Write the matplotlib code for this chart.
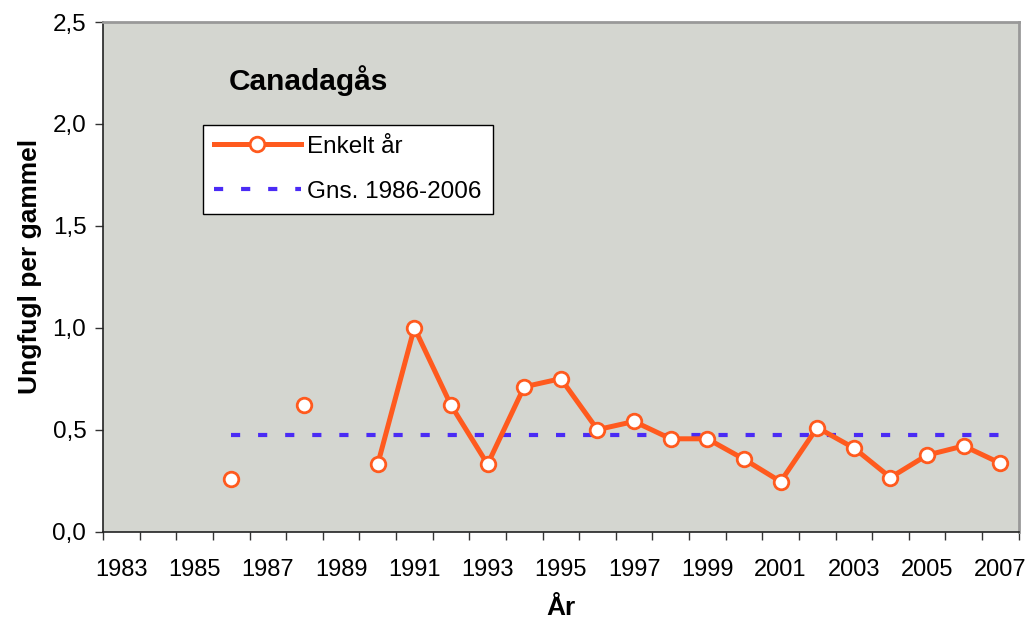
import numpy as np
import matplotlib
matplotlib.use('Agg')
import matplotlib.pyplot as plt

plt.rcParams['font.family'] = ['Liberation Sans', 'DejaVu Sans']

# Data (NaN = no value that year)
years = list(range(1983, 2008))
ratio = [np.nan, np.nan, np.nan, 0.26, np.nan, 0.62, np.nan, 0.33, 1.00, 0.62,
         0.33, 0.71, 0.75, 0.50, 0.54, 0.455, 0.455, 0.355, 0.245, 0.51,
         0.41, 0.265, 0.375, 0.42, 0.335]
mean_years = [1986, 2007]
mean_value = 0.475
year_labels = [str(y) for y in range(1983, 2008, 2)]
y_ticks = [0.0, 0.5, 1.0, 1.5, 2.0, 2.5]
y_tick_labels = ["0,0", "0,5", "1,0", "1,5", "2,0", "2,5"]

orange = '#FF5A1E'
blue = '#4A2BF5'

fig = plt.figure(figsize=(10.3, 6.2), dpi=100)
ax = fig.add_axes([0.1, 0.1427, 0.889, 0.8218])
ax.set_facecolor('#D4D6D0')

line_single, = ax.plot(years, ratio, color=orange, lw=3.6, marker='o', markersize=10.5,
                       markerfacecolor='white', markeredgecolor=orange, markeredgewidth=2,
                       label='Enkelt år', zorder=4)
line_mean, = ax.plot(mean_years, [mean_value] * len(mean_years), color=blue, lw=3,
                     linestyle=(0, (2.2, 4.3)), dash_capstyle='butt',
                     label='Gns. 1986-2006', zorder=3)

ax.set_xlim(1982.5, 2007.5)
ax.set_ylim(0, 2.5)
ax.set_xticks(np.arange(1982.5, 2008, 1))
ax.set_xticklabels([])
ax.set_xticks(range(1983, 2008, 2), minor=True)
ax.set_xticklabels(year_labels, minor=True, fontsize=17)
ax.tick_params(axis='x', which='minor', length=0, pad=20)
ax.tick_params(axis='x', which='major', direction='out', length=6, width=1, color='#333333')
ax.set_yticks(y_ticks)
ax.set_yticklabels(y_tick_labels, fontsize=17.5)
ax.tick_params(axis='y', direction='out', length=6, width=1, color='#333333', pad=6)

for side in ['left', 'bottom']:
    ax.spines[side].set_color('#222222')
    ax.spines[side].set_linewidth(1.2)
for side in ['top', 'right']:
    ax.spines[side].set_color('#999999')
    ax.spines[side].set_linewidth(2)

ax.set_ylabel('Ungfugl per gammel', fontsize=19, fontweight='bold')
ax.yaxis.set_label_coords(-0.067, 0.52)
ax.set_xlabel('År', fontsize=19, fontweight='bold')
ax.xaxis.set_label_coords(0.5, -0.126)

ax.text(0.137, 0.885, 'Canadagås', transform=ax.transAxes, fontsize=21.5,
        fontweight='bold', ha='left', va='center')

leg = ax.legend(handles=[line_single, line_mean], loc='upper left',
                bbox_to_anchor=(0.109, 0.798), fontsize=17.5, frameon=True,
                fancybox=False, edgecolor='black', framealpha=1,
                handlelength=3.6, borderpad=0.45, labelspacing=0.95, handletextpad=0.25,
                borderaxespad=0)
leg.get_frame().set_linewidth(1)

fig.savefig('out.png', dpi=100)
